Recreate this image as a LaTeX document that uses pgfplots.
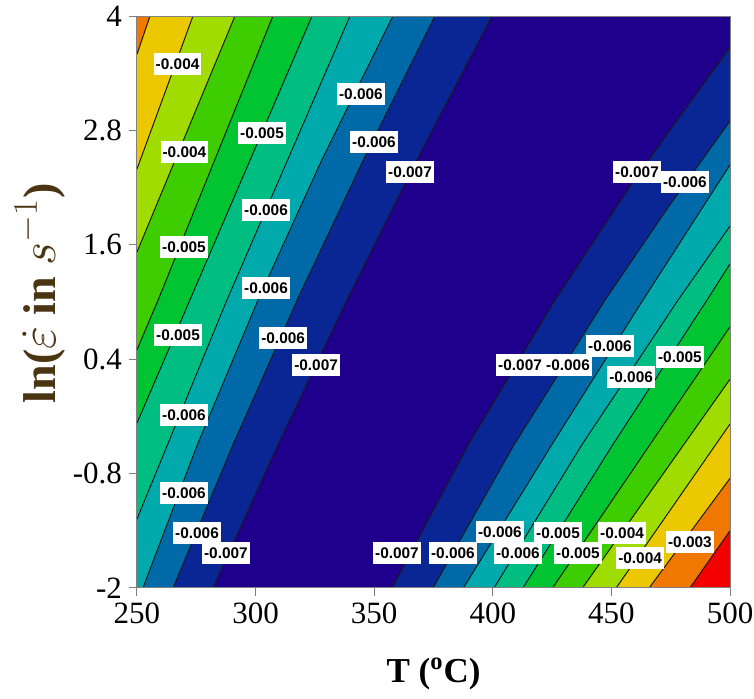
\documentclass[border=0pt]{standalone}
\usepackage{fontspec}
\setmainfont{Liberation Serif}
\newfontfamily\lblfont{Liberation Sans}
\usepackage{pgfplots}
\pgfplotsset{compat=1.18}
\definecolor{c0}{RGB}{30,0,140}
\definecolor{c1}{RGB}{10,38,148}
\definecolor{c2}{RGB}{0,105,168}
\definecolor{c3}{RGB}{0,170,172}
\definecolor{c4}{RGB}{0,190,130}
\definecolor{c5}{RGB}{0,196,50}
\definecolor{c6}{RGB}{62,205,0}
\definecolor{c7}{RGB}{160,220,0}
\definecolor{c8}{RGB}{235,200,0}
\definecolor{c9}{RGB}{240,120,0}
\definecolor{c10}{RGB}{245,0,0}
\definecolor{ylab}{RGB}{75,52,18}
\tikzset{lbl/.style={fill=white, inner xsep=1pt, inner ysep=2.6pt, text height=5.7pt, text depth=0pt, font=\lblfont\bfseries\fontsize{7.7}{8}\selectfont},
 cl/.style={black!90, line width=0.5pt}}
\begin{document}
\begin{tikzpicture}
\useasboundingbox (-68.5pt,-55.5pt) rectangle (308.5pt,294pt);
\begin{axis}[
  at={(0,0)}, anchor=south west,
  scale only axis, width=296.5pt, height=286pt,
  xmin=250, xmax=500, ymin=-2, ymax=4,
  xtick={250,300,350,400,450,500},
  xticklabels={250,300,350,400,450,500},
  ytick={-2,-0.8,0.4,1.6,2.8,4},
  yticklabels={-2,-0.8,0.4,1.6,2.8,4},
  tick align=outside, tick pos=left, major tick length=4pt,
  tick style={gray, line width=0.5pt},
  axis line style={gray, line width=0.5pt},
  ticklabel style={font=\fontsize{15.5}{17}\selectfont},
  xlabel={T (\textsuperscript{o}C)},
  xlabel style={at={(axis description cs:0.5,-0.150)}, anchor=center, font=\fontsize{17.5}{20}\selectfont\bfseries},
  ylabel={ln($\dot{\varepsilon}$ in $s^{-1}$)},
  ylabel style={at={(axis description cs:-0.164,0.515)}, anchor=center, font=\fontsize{23}{25}\selectfont\bfseries, text=ylab},
  axis on top,
  no markers,
]
% background (lowest level)
\addplot[fill=c0, draw=none] coordinates {(250,-2) (500,-2) (500,4) (250,4)} -- cycle;
% left side bands
\addplot[fill=c1, draw=none] coordinates {(399.7,4) (368.2,2.5) (338.5,1.02) (309.4,-0.5) (282,-2) (250,-2) (250,4)} -- cycle;
\addplot[fill=c2, draw=none] coordinates {(375.6,4) (345.6,2.5) (317.5,1.02) (290.4,-0.5) (265.2,-2) (250,-2) (250,4)} -- cycle;
\addplot[fill=c3, draw=none] coordinates {(357.9,4) (328.1,2.5) (301.0,1.02) (275.4,-0.5) (252.5,-2) (250,-2) (250,4)} -- cycle;
\addplot[fill=c4, draw=none] coordinates {(339.8,4) (287.9,1.02) (250,-1.277) (250,4)} -- cycle;
\addplot[fill=c5, draw=none] coordinates {(323.8,4) (272.3,1.02) (250,-0.27) (250,4)} -- cycle;
\addplot[fill=c6, draw=none] coordinates {(307.3,4) (258.9,1.02) (250,0.5) (250,4)} -- cycle;
\addplot[fill=c7, draw=none] coordinates {(291.3,4) (250,1.524) (250,4)} -- cycle;
\addplot[fill=c8, draw=none] coordinates {(273.6,4) (250,2.395) (250,4)} -- cycle;
\addplot[fill=c9, draw=none] coordinates {(255.5,4) (250,3.6) (250,4)} -- cycle;
% right side bands
\addplot[fill=c1, draw=none] coordinates {(357.5,-2) (389.6,-0.5) (426.2,1.02) (460.2,2.3) (500,3.675) (500,-2)} -- cycle;
\addplot[fill=c2, draw=none] coordinates {(374.8,-2) (408.9,-0.5) (447.3,1.02) (474.1,2.0) (500,2.899) (500,-2)} -- cycle;
\addplot[fill=c3, draw=none] coordinates {(387.6,-2) (424.8,-0.5) (463.3,1.02) (500,2.438) (500,-2)} -- cycle;
\addplot[fill=c4, draw=none] coordinates {(400.5,-2) (437.5,-0.5) (478.1,1.02) (500,1.797) (500,-2)} -- cycle;
\addplot[fill=c5, draw=none] coordinates {(412.7,-2) (450.5,-0.5) (490.3,1.02) (500,1.40) (500,-2)} -- cycle;
\addplot[fill=c6, draw=none] coordinates {(425.2,-2) (500,0.74) (500,-2)} -- cycle;
\addplot[fill=c7, draw=none] coordinates {(437.8,-2) (500,0.19) (500,-2)} -- cycle;
\addplot[fill=c8, draw=none] coordinates {(452.0,-2) (500,-0.28) (500,-2)} -- cycle;
\addplot[fill=c9, draw=none] coordinates {(465.9,-2) (500,-0.85) (500,-2)} -- cycle;
\addplot[fill=c10, draw=none] coordinates {(483.1,-2) (500,-1.40) (500,-2)} -- cycle;
% contour lines
\addplot[cl] coordinates {(399.7,4) (368.2,2.5) (338.5,1.02) (309.4,-0.5) (282,-2)};
\addplot[cl] coordinates {(375.6,4) (345.6,2.5) (317.5,1.02) (290.4,-0.5) (265.2,-2)};
\addplot[cl] coordinates {(357.9,4) (328.1,2.5) (301.0,1.02) (275.4,-0.5) (252.5,-2)};
\addplot[cl] coordinates {(339.8,4) (287.9,1.02) (250,-1.277)};
\addplot[cl] coordinates {(323.8,4) (272.3,1.02) (250,-0.27)};
\addplot[cl] coordinates {(307.3,4) (258.9,1.02) (250,0.5)};
\addplot[cl] coordinates {(291.3,4) (250,1.524)};
\addplot[cl] coordinates {(273.6,4) (250,2.395)};
\addplot[cl] coordinates {(255.5,4) (250,3.6)};
\addplot[cl] coordinates {(357.5,-2) (389.6,-0.5) (426.2,1.02) (460.2,2.3) (500,3.675)};
\addplot[cl] coordinates {(374.8,-2) (408.9,-0.5) (447.3,1.02) (474.1,2.0) (500,2.899)};
\addplot[cl] coordinates {(387.6,-2) (424.8,-0.5) (463.3,1.02) (500,2.438)};
\addplot[cl] coordinates {(400.5,-2) (437.5,-0.5) (478.1,1.02) (500,1.797)};
\addplot[cl] coordinates {(412.7,-2) (450.5,-0.5) (490.3,1.02) (500,1.40)};
\addplot[cl] coordinates {(425.2,-2) (500,0.74)};
\addplot[cl] coordinates {(437.8,-2) (500,0.19)};
\addplot[cl] coordinates {(452.0,-2) (500,-0.28)};
\addplot[cl] coordinates {(465.9,-2) (500,-0.85)};
\addplot[cl] coordinates {(483.1,-2) (500,-1.40)};
% contour labels
\node[lbl] at (axis cs:267.1,3.496) {-0.004};
\node[lbl] at (axis cs:270.0,2.573) {-0.004};
\node[lbl] at (axis cs:302.7,2.773) {-0.005};
\node[lbl] at (axis cs:344.4,3.182) {-0.006};
\node[lbl] at (axis cs:349.9,2.678) {-0.006};
\node[lbl] at (axis cs:365.1,2.364) {-0.007};
\node[lbl] at (axis cs:304.4,1.965) {-0.006};
\node[lbl] at (axis cs:269.8,1.577) {-0.005};
\node[lbl] at (axis cs:304.4,1.147) {-0.006};
\node[lbl] at (axis cs:267.3,0.654) {-0.005};
\node[lbl] at (axis cs:311.6,0.622) {-0.006};
\node[lbl] at (axis cs:325.5,0.339) {-0.007};
\node[lbl] at (axis cs:269.8,-0.186) {-0.006};
\node[lbl] at (axis cs:269.8,-1.004) {-0.006};
\node[lbl] at (axis cs:275.3,-1.423) {-0.006};
\node[lbl] at (axis cs:287.5,-1.633) {-0.007};
\node[lbl] at (axis cs:359.6,-1.633) {-0.007};
\node[lbl] at (axis cs:383.2,-1.633) {-0.006};
\node[lbl] at (axis cs:403.0,-1.413) {-0.006};
\node[lbl] at (axis cs:410.6,-1.633) {-0.006};
\node[lbl] at (axis cs:427.5,-1.423) {-0.005};
\node[lbl] at (axis cs:435.9,-1.633) {-0.005};
\node[lbl] at (axis cs:454.5,-1.423) {-0.004};
\node[lbl] at (axis cs:462.1,-1.686) {-0.004};
\node[lbl] at (axis cs:483.1,-1.518) {-0.003};
\node[lbl] at (axis cs:411.5,0.339) {-0.007};
\node[lbl] at (axis cs:431.7,0.339) {-0.006};
\node[lbl] at (axis cs:449.4,0.538) {-0.006};
\node[lbl] at (axis cs:458.3,0.213) {-0.006};
\node[lbl] at (axis cs:478.9,0.423) {-0.005};
\node[lbl] at (axis cs:460.8,2.364) {-0.007};
\node[lbl] at (axis cs:481.0,2.259) {-0.006};
\end{axis}
\end{tikzpicture}
\end{document}
